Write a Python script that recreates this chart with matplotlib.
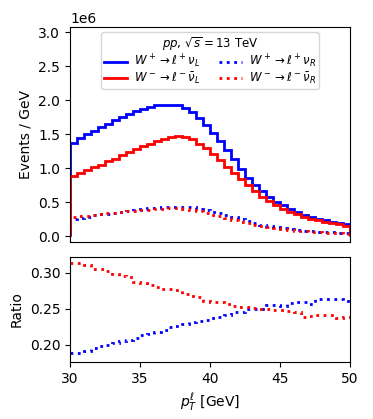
import numpy as np
import matplotlib
matplotlib.use("Agg")
import matplotlib.pyplot as plt

# bin edges in lepton pT (GeV), 0.5 GeV bins
edges = np.linspace(30, 50, 41)

# left-handed neutrino spectra, events / GeV (x 1e6)
wplus_L = [1.37, 1.44, 1.50, 1.55, 1.60, 1.65, 1.71, 1.75, 1.80, 1.84,
           1.87, 1.90, 1.92, 1.93, 1.93, 1.92, 1.88, 1.82, 1.73, 1.63,
           1.52, 1.40, 1.27, 1.13, 0.99, 0.86, 0.75, 0.66, 0.57, 0.50,
           0.45, 0.40, 0.35, 0.31, 0.28, 0.25, 0.23, 0.21, 0.19, 0.17]
wminus_L = [0.88, 0.93, 0.97, 1.01, 1.05, 1.10, 1.14, 1.19, 1.24, 1.28,
            1.32, 1.36, 1.40, 1.43, 1.46, 1.47, 1.46, 1.42, 1.36, 1.29,
            1.21, 1.12, 1.02, 0.93, 0.84, 0.75, 0.66, 0.58, 0.51, 0.45,
            0.40, 0.36, 0.32, 0.28, 0.25, 0.23, 0.21, 0.19, 0.17, 0.15]

# R / L ratio
ratio_plus = [0.188, 0.189, 0.191, 0.196, 0.198, 0.200, 0.202, 0.205, 0.207, 0.210,
              0.213, 0.215, 0.218, 0.221, 0.224, 0.226, 0.229, 0.232, 0.233, 0.234,
              0.237, 0.239, 0.241, 0.245, 0.246, 0.250, 0.250, 0.250, 0.255, 0.255,
              0.254, 0.258, 0.259, 0.260, 0.257, 0.264, 0.263, 0.263, 0.263, 0.261]
ratio_minus = [0.314, 0.313, 0.311, 0.305, 0.305, 0.303, 0.298, 0.295, 0.294, 0.287,
               0.286, 0.283, 0.280, 0.278, 0.278, 0.276, 0.270, 0.268, 0.267, 0.261,
               0.260, 0.260, 0.257, 0.254, 0.253, 0.252, 0.251, 0.250, 0.250, 0.248,
               0.248, 0.247, 0.245, 0.239, 0.240, 0.242, 0.242, 0.242, 0.237, 0.239]

wplus_L = np.array(wplus_L) * 1e6
wminus_L = np.array(wminus_L) * 1e6
# right-handed spectra from the ratio
wplus_R = wplus_L * np.array(ratio_plus)
wminus_R = wminus_L * np.array(ratio_minus)

fig = plt.figure(figsize=(3.73, 4.19), dpi=100)
ax = fig.add_axes([0.1877, 0.4224, 0.7507, 0.5131])
rax = fig.add_axes([0.1877, 0.1360, 0.7507, 0.2506], sharex=ax)

ax.stairs(wplus_L, edges, baseline=0, color="blue", lw=2, label=r"$W^+ \to \ell^+ \nu_L$")
ax.stairs(wminus_L, edges, baseline=0, color="red", lw=2, label=r"$W^- \to \ell^- \bar{\nu}_L$")
ax.stairs(wplus_R, edges, baseline=0, color="blue", lw=2, ls=":", label=r"$W^+ \to \ell^+ \nu_R$")
ax.stairs(wminus_R, edges, baseline=0, color="red", lw=2, ls=":", label=r"$W^- \to \ell^- \bar{\nu}_R$")

ax.set_xlim(30, 50)
ax.set_ylim(-0.088e6, 3.074e6)
ax.set_ylabel("Events / GeV")
ax.tick_params(axis="x", bottom=False, labelbottom=False)
ax.legend(loc="upper center", ncol=2, fontsize=8.5, title=r"$pp$, $\sqrt{s} = 13$ TeV",
          title_fontsize=8.5, labelspacing=0.0, handlelength=1.95, handletextpad=0.55,
          columnspacing=1.6, borderpad=0.25, borderaxespad=0.45)

rax.stairs(ratio_plus, edges, baseline=None, color="blue", lw=2, ls=":")
rax.stairs(ratio_minus, edges, baseline=None, color="red", lw=2, ls=":")
rax.set_ylim(0.176, 0.322)
rax.set_yticks([0.20, 0.25, 0.30])
rax.set_ylabel("Ratio")
rax.set_xlabel(r"$p_T^\ell$ [GeV]")
rax.set_xticks([30, 35, 40, 45, 50])

fig.savefig("out.png", dpi=100)
